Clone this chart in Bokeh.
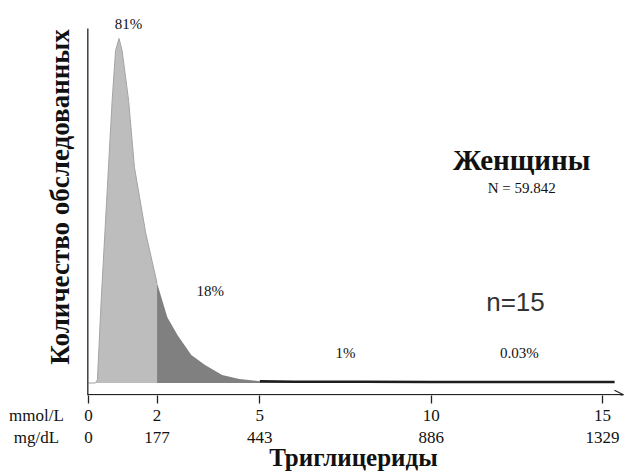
import math
from bokeh.plotting import figure
from bokeh.models import (ColumnDataSource, Label, LinearAxis, FixedTicker,
                          Arrow, OpenHead, Range1d)
from bokeh.embed import file_html
from bokeh.resources import INLINE

# ---- data ----
tg_mmol = [0.0, 0.20, 0.26, 0.37, 0.53, 0.69, 0.79, 0.89, 0.98, 1.17, 1.34,
           1.67, 2.0, 2.3, 2.6, 3.0, 3.4, 3.9, 4.4, 5.0, 6.0, 8.0, 10.0,
           12.0, 15.35]
counts = [0.0, 0.0, 0.9, 24.0, 53.0, 82.0, 96.5, 100.0, 96.5, 82.0, 62.6,
          43.5, 29.0, 19.1, 13.9, 8.1, 5.2, 2.3, 1.2, 0.5, 0.4, 0.35, 0.3,
          0.3, 0.3]
split_mmol = 2.0
tail_from = 5.0

mmol_ticks = [0, 2, 5, 10, 15]
mmol_labels = ["0", "2", "5", "10", "15"]
mgdl_labels = ["0", "177", "443", "886", "1329"]
unit_pos = -1.52
unit_labels = ["mmol/L", "mg/dL"]
xlabel_pos = 7.73
xlabel = "Триглицериды"
ylabel = "Количество обследованных"

pct_labels = ["81%", "18%", "1%", "0.03%"]
pct_x = [1.17, 3.55, 7.5, 12.57]
pct_y = [104.3, 26.8, 8.8, 8.8]

title_text = "Женщины"
n_total = "N = 59.842"
n_label = "n=15"

SERIF = "Liberation Serif"
INK = "#111111"
AX = "#222222"

light = ColumnDataSource(dict(
    x=[x for x in tg_mmol if x <= split_mmol],
    y=[c for x, c in zip(tg_mmol, counts) if x <= split_mmol]))
dark = ColumnDataSource(dict(
    x=[x for x in tg_mmol if x >= split_mmol],
    y=[c for x, c in zip(tg_mmol, counts) if x >= split_mmol]))
tail = ColumnDataSource(dict(
    x=[x for x in tg_mmol if x >= tail_from],
    y=[c for x, c in zip(tg_mmol, counts) if x >= tail_from]))

x0, x1 = -2.568, 15.728
y0, y1 = -3.618, 111.0
x_axis_y = -3.39      # where the drawn x axis line sits
y_axis_x = -0.02
y_axis_top = 102.9
arrow_from, arrow_to = 15.3, 15.61

p = figure(width=627, height=473, output_backend="svg", toolbar_location=None,
           x_range=Range1d(x0, x1), y_range=Range1d(y0, y1),
           y_axis_location=None,
           min_border_left=0, min_border_right=0, min_border_top=0,
           min_border_bottom=77)
p.outline_line_color = None
p.grid.visible = False
p.background_fill_color = "white"

p.varea(x="x", y1=0, y2="y", source=light, fill_color="#bdbdbd")
p.varea(x="x", y1=0, y2="y", source=dark, fill_color="#808080")
p.line(x="x", y="y", source=light, line_color="#a4a4a4", line_width=1)
p.line(x="x", y="y", source=tail, line_color="#1e1e1e", line_width=2.5)

# axis lines
p.segment(x0=[y_axis_x], y0=[y0], x1=[y_axis_x], y1=[y_axis_top],
          line_color=AX, line_width=1.3)
p.segment(x0=[y_axis_x], y0=[x_axis_y], x1=[arrow_from], y1=[x_axis_y],
          line_color=AX, line_width=1.3)
p.add_layout(Arrow(end=OpenHead(size=9, line_width=1.3, line_color=AX),
                   x_start=arrow_from, y_start=x_axis_y, x_end=arrow_to,
                   y_end=x_axis_y, line_color=AX, line_width=1.3))

# axis A: tick marks only
xa = p.xaxis[0]
xa.ticker = FixedTicker(ticks=mmol_ticks)
xa.axis_line_color = None
xa.minor_tick_line_color = None
xa.major_tick_in = 0
xa.major_tick_out = 8
xa.major_tick_line_color = AX
xa.major_tick_line_width = 1.3
xa.major_label_overrides = {t: " " for t in mmol_ticks}
xa.major_label_text_font_size = "1px"
xa.major_label_standoff = -2


def label_axis(ticks, labels, size, style="normal", standoff=0):
    ax = LinearAxis(ticker=FixedTicker(ticks=ticks),
                    major_label_overrides={t: l for t, l in zip(ticks, labels)})
    ax.axis_line_color = None
    ax.major_tick_line_color = None
    ax.minor_tick_line_color = None
    ax.major_tick_out = 0
    ax.major_tick_in = 0
    ax.major_label_standoff = standoff
    ax.major_label_text_font = SERIF
    ax.major_label_text_font_size = size
    ax.major_label_text_font_style = style
    ax.major_label_text_color = INK
    p.add_layout(ax, "below")
    return ax


label_axis([unit_pos] + mmol_ticks, [unit_labels[0]] + mmol_labels, "17px")
label_axis([unit_pos] + mmol_ticks, [unit_labels[1]] + mgdl_labels, "17px")
label_axis([xlabel_pos], [xlabel], "25px", "bold", -6)

# texts
p.add_layout(Label(x=-0.82, y=54, text=ylabel,
                   angle=math.pi / 2, text_align="center", text_baseline="middle",
                   text_font=SERIF, text_font_size="27px", text_font_style="bold",
                   text_color=INK))
for t, x, y in zip(pct_labels, pct_x, pct_y):
    p.add_layout(Label(x=x, y=y, text=t, text_align="center",
                       text_baseline="middle", text_font=SERIF,
                       text_font_size="15px", text_color=INK))
p.add_layout(Label(x=12.64, y=64.7, text=title_text, text_align="center",
                   text_baseline="middle", text_font=SERIF, text_font_size="29px",
                   text_font_style="bold", text_color=INK))
p.add_layout(Label(x=12.64, y=56.6, text=n_total, text_align="center",
                   text_baseline="middle", text_font=SERIF, text_font_size="15px",
                   text_color=INK))
p.add_layout(Label(x=12.46, y=23.6, text=n_label, text_align="center",
                   text_baseline="middle", text_font="Liberation Sans",
                   text_font_size="26px", text_color="#333333"))

open("out.html", "w").write(file_html(p, INLINE))
